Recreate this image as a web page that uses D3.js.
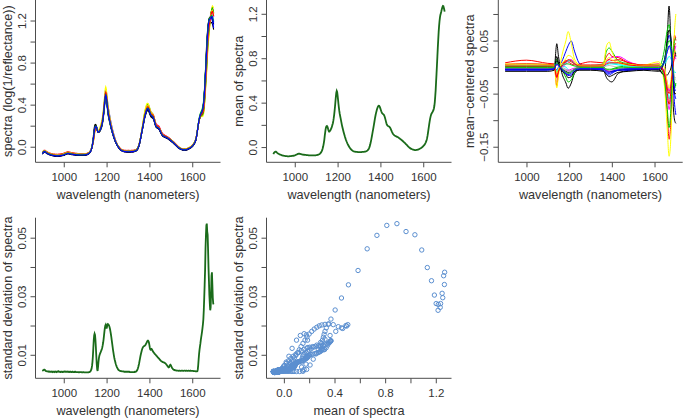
<!DOCTYPE html>
<html><head><meta charset="utf-8">
<script src="https://cdn.jsdelivr.net/npm/d3@7"></script>
<style>
body{margin:0;background:#fff}
svg{display:block}
text{font-family:"Liberation Sans",Arial,Helvetica,sans-serif}
</style>
</head><body>
<svg id="chart" width="685" height="418"></svg>
<script>
// ---------------- DATA ----------------
const wavelengths = d3.range(900, 1701, 2); // 900..1700 nm, 2 nm step

const meanSpectrum = [
-0.063,-0.056,-0.050,-0.046,-0.043,-0.042,-0.042,-0.045,-0.048,-0.052,
-0.055,-0.058,-0.060,-0.062,-0.064,-0.066,-0.068,-0.069,-0.071,-0.072,
-0.074,-0.075,-0.076,-0.077,-0.078,-0.079,-0.080,-0.080,-0.081,-0.081,
-0.082,-0.082,-0.082,-0.083,-0.083,-0.083,-0.083,-0.083,-0.082,-0.082,
-0.082,-0.081,-0.081,-0.080,-0.080,-0.079,-0.078,-0.078,-0.077,-0.076,
-0.075,-0.073,-0.071,-0.069,-0.067,-0.066,-0.064,-0.062,-0.061,-0.060,
-0.060,-0.060,-0.061,-0.062,-0.063,-0.064,-0.065,-0.066,-0.067,-0.068,
-0.068,-0.069,-0.069,-0.070,-0.070,-0.071,-0.071,-0.072,-0.072,-0.073,
-0.073,-0.073,-0.074,-0.074,-0.074,-0.074,-0.075,-0.075,-0.075,-0.075,
-0.075,-0.075,-0.075,-0.075,-0.075,-0.075,-0.075,-0.074,-0.074,-0.074,
-0.073,-0.073,-0.072,-0.071,-0.070,-0.068,-0.067,-0.065,-0.062,-0.059,
-0.055,-0.050,-0.045,-0.037,-0.028,-0.015,0.000,0.018,0.040,0.065,
0.100,0.130,0.160,0.178,0.187,0.190,0.185,0.175,0.160,0.148,
0.140,0.140,0.145,0.150,0.157,0.165,0.175,0.188,0.200,0.215,
0.235,0.260,0.290,0.325,0.365,0.410,0.455,0.490,0.505,0.495,
0.465,0.430,0.390,0.355,0.325,0.300,0.280,0.260,0.240,0.220,
0.200,0.183,0.167,0.151,0.136,0.122,0.108,0.095,0.083,0.071,
0.060,0.050,0.041,0.032,0.024,0.016,0.009,0.003,-0.003,-0.009,
-0.014,-0.019,-0.023,-0.027,-0.030,-0.033,-0.035,-0.037,-0.039,-0.040,
-0.041,-0.042,-0.043,-0.043,-0.044,-0.044,-0.044,-0.045,-0.045,-0.045,
-0.045,-0.045,-0.045,-0.045,-0.045,-0.045,-0.045,-0.044,-0.044,-0.044,
-0.044,-0.043,-0.043,-0.042,-0.041,-0.040,-0.039,-0.037,-0.035,-0.033,
-0.030,-0.026,-0.021,-0.014,-0.005,0.006,0.020,0.036,0.054,0.074,
0.095,0.117,0.139,0.160,0.182,0.205,0.228,0.251,0.273,0.293,
0.310,0.325,0.340,0.352,0.362,0.369,0.372,0.371,0.366,0.357,
0.346,0.334,0.322,0.312,0.305,0.301,0.298,0.295,0.290,0.283,
0.273,0.260,0.245,0.229,0.214,0.203,0.196,0.192,0.189,0.187,
0.185,0.182,0.178,0.172,0.164,0.155,0.146,0.137,0.129,0.122,
0.116,0.111,0.107,0.104,0.102,0.100,0.098,0.096,0.094,0.092,
0.090,0.088,0.086,0.083,0.080,0.077,0.074,0.071,0.068,0.065,
0.062,0.059,0.055,0.052,0.048,0.045,0.041,0.037,0.033,0.029,
0.025,0.021,0.017,0.013,0.009,0.005,0.001,-0.003,-0.006,-0.009,
-0.012,-0.014,-0.016,-0.018,-0.020,-0.022,-0.023,-0.024,-0.025,-0.026,
-0.027,-0.027,-0.027,-0.027,-0.026,-0.026,-0.025,-0.024,-0.023,-0.021,
-0.019,-0.017,-0.015,-0.013,-0.011,-0.009,-0.006,-0.003,0.000,0.004,
0.008,0.012,0.017,0.022,0.028,0.035,0.043,0.053,0.064,0.080,
0.100,0.125,0.152,0.180,0.207,0.232,0.254,0.272,0.287,0.298,
0.305,0.312,0.318,0.325,0.335,0.350,0.372,0.405,0.455,0.510,
0.586,0.658,0.735,0.813,0.893,0.965,1.035,1.089,1.133,1.166,
1.189,1.203,1.218,1.235,1.250,1.262,1.270,1.268,1.255,1.238,
1.220
];

const sdSpectrum = [
0.0045,0.0046,0.0047,0.0048,0.0049,0.0049,0.0048,0.0046,0.0045,0.0044,
0.0044,0.0043,0.0043,0.0043,0.0042,0.0043,0.0043,0.0042,0.0042,0.0042,
0.0042,0.0043,0.0042,0.0042,0.0041,0.0042,0.0042,0.0042,0.0041,0.0042,
0.0042,0.0043,0.0042,0.0041,0.0042,0.0042,0.0043,0.0044,0.0043,0.0042,
0.0042,0.0042,0.0041,0.0041,0.0042,0.0042,0.0042,0.0041,0.0041,0.0042,
0.0042,0.0042,0.0043,0.0043,0.0042,0.0042,0.0042,0.0042,0.0043,0.0042,
0.0042,0.0042,0.0041,0.0041,0.0042,0.0042,0.0042,0.0041,0.0041,0.0041,
0.0042,0.0042,0.0041,0.0041,0.0041,0.0041,0.0042,0.0042,0.0041,0.0041,
0.0041,0.0041,0.0041,0.0041,0.0041,0.0040,0.0040,0.0041,0.0041,0.0041,
0.0041,0.0041,0.0040,0.0040,0.0040,0.0041,0.0041,0.0040,0.0040,0.0040,
0.0040,0.0040,0.0040,0.0040,0.0040,0.0040,0.0040,0.0040,0.0040,0.0041,
0.0041,0.0042,0.0043,0.0045,0.0048,0.0053,0.0062,0.0075,0.0095,0.0122,
0.0150,0.0166,0.0172,0.0168,0.0150,0.0125,0.0095,0.0068,0.0050,0.0045,
0.0058,0.0075,0.0088,0.0096,0.0101,0.0105,0.0108,0.0112,0.0116,0.0120,
0.0126,0.0133,0.0142,0.0153,0.0166,0.0180,0.0192,0.0200,0.0203,0.0198,
0.0190,0.0196,0.0203,0.0205,0.0204,0.0202,0.0199,0.0194,0.0188,0.0180,
0.0171,0.0161,0.0150,0.0139,0.0128,0.0117,0.0107,0.0098,0.0090,0.0083,
0.0077,0.0071,0.0066,0.0062,0.0058,0.0055,0.0052,0.0050,0.0048,0.0047,
0.0046,0.0045,0.0045,0.0044,0.0044,0.0044,0.0043,0.0043,0.0043,0.0043,
0.0043,0.0042,0.0042,0.0042,0.0042,0.0042,0.0042,0.0042,0.0042,0.0042,
0.0042,0.0042,0.0042,0.0042,0.0041,0.0041,0.0041,0.0041,0.0041,0.0041,
0.0041,0.0041,0.0041,0.0041,0.0041,0.0041,0.0042,0.0042,0.0042,0.0043,
0.0044,0.0046,0.0049,0.0053,0.0058,0.0064,0.0071,0.0079,0.0087,0.0095,
0.0102,0.0108,0.0114,0.0119,0.0123,0.0126,0.0128,0.0129,0.0130,0.0131,
0.0132,0.0134,0.0137,0.0140,0.0143,0.0146,0.0148,0.0148,0.0146,0.0141,
0.0133,0.0124,0.0118,0.0117,0.0119,0.0120,0.0118,0.0115,0.0112,0.0110,
0.0108,0.0106,0.0104,0.0102,0.0101,0.0099,0.0097,0.0096,0.0094,0.0092,
0.0091,0.0089,0.0088,0.0086,0.0084,0.0082,0.0081,0.0079,0.0078,0.0077,
0.0076,0.0075,0.0075,0.0074,0.0074,0.0073,0.0072,0.0071,0.0070,0.0068,
0.0066,0.0064,0.0062,0.0060,0.0058,0.0057,0.0058,0.0062,0.0065,0.0066,
0.0064,0.0061,0.0058,0.0055,0.0053,0.0051,0.0050,0.0049,0.0048,0.0048,
0.0047,0.0047,0.0047,0.0046,0.0046,0.0046,0.0046,0.0046,0.0045,0.0045,
0.0046,0.0046,0.0045,0.0045,0.0045,0.0046,0.0046,0.0046,0.0045,0.0045,
0.0045,0.0046,0.0046,0.0046,0.0045,0.0045,0.0046,0.0046,0.0045,0.0045,
0.0045,0.0046,0.0046,0.0045,0.0045,0.0045,0.0046,0.0045,0.0045,0.0045,
0.0045,0.0045,0.0045,0.0044,0.0044,0.0044,0.0044,0.0044,0.0043,0.0043,
0.0043,0.0043,0.0044,0.0050,0.0065,0.0085,0.0103,0.0117,0.0128,0.0138,
0.0150,0.0160,0.0170,0.0180,0.0192,0.0205,0.0222,0.0253,0.0294,0.0339,
0.0388,0.0462,0.0508,0.0542,0.0548,0.0521,0.0510,0.0458,0.0398,0.0353,
0.0304,0.0275,0.0252,0.0262,0.0310,0.0370,0.0382,0.0340,0.0295,0.0275,
0.0272
];

// mean-centered spectra of individual samples, read at these wavelengths
const devWavelengths = [900,1000,1100,1130,1142,1150,1165,1185,1195,1210,1225,1250,1300,1360,1375,1388,1400,1430,1480,1550,1620,1645,1660,1668,1678,1686,1694,1700];
const devSamples = [
[-.004,-.004,-.004,-.002,.044,.020,-.010,-.030,-.040,-.030,-.012,-.004,-.004,-.006,-.020,-.026,-.028,-.012,-.006,-.004,-.006,-.015,.060,.115,.030,-.060,-.100,-.106],
[.008,.013,.007,.006,-.036,-.010,.004,.012,.010,.006,.004,.006,.010,.008,.020,.026,.020,.018,.008,.004,.006,-.020,-.090,-.136,-.090,.010,.060,.050],
[.002,.002,.002,.003,.015,.006,-.004,-.020,-.028,-.024,-.010,.000,.002,.006,.030,.036,.030,.012,.006,.003,.000,.030,.070,.080,.040,-.020,-.040,-.030],
[-.006,-.006,-.006,-.004,-.005,.000,.010,.030,.040,.049,.030,.006,-.002,-.006,-.012,-.015,-.012,-.006,-.006,-.005,-.004,.010,.030,.040,.030,-.020,-.070,-.090],
[.004,.004,.004,.004,.010,.006,.002,.000,-.005,-.008,-.004,.002,.003,.004,.008,.010,.008,.006,.004,.003,.004,-.010,-.040,-.060,-.040,.000,.020,.020],
[-.002,-.002,-.002,-.002,-.012,-.006,.000,.006,.012,.014,.008,.000,-.002,.000,.010,.015,.018,.020,.010,.002,.000,-.015,-.060,-.080,-.050,.000,.030,.040],
[.006,.006,.005,.004,-.039,-.015,.020,.050,.067,.045,.015,.004,.002,.005,.040,.047,.030,.010,.005,.004,.010,-.030,-.120,-.168,-.120,-.010,.070,.100],
[.000,.000,.000,.000,.004,.002,.000,-.004,-.006,-.006,-.004,.000,.000,.000,.002,.003,.002,.000,.000,.000,.000,.010,.030,.035,.030,.010,-.020,-.020],
[-.003,-.003,-.003,-.002,.012,.006,-.002,-.008,-.010,-.008,-.004,-.002,-.002,-.002,-.006,-.008,-.008,-.006,-.004,-.004,-.004,-.015,-.015,-.010,.000,.020,.030,.020],
[.005,.006,.005,.004,-.018,-.008,.004,.010,.012,.010,.006,.004,.004,.004,.012,.014,.012,.014,.008,.004,.004,-.010,-.050,-.070,-.040,.000,.040,.045],
[.001,.001,.001,.001,-.010,-.004,.002,.006,.006,.004,.002,.001,.001,.000,-.004,-.006,-.004,.000,.002,.002,.003,-.020,-.080,-.114,-.070,.010,.050,.055],
[-.005,-.005,-.005,-.004,.006,.003,-.004,-.012,-.016,-.015,-.008,-.004,-.004,-.004,-.010,-.012,-.010,-.006,-.004,-.004,-.003,.012,.045,.060,.040,-.010,-.050,-.060],
[.003,.003,.003,.002,-.008,-.002,.004,.008,.012,.012,.006,.002,.002,.002,.004,.006,.006,.004,.002,.002,.002,.005,.015,.020,.015,.000,-.010,-.010],
[-.001,-.001,-.001,-.001,.005,.002,-.002,-.006,-.006,-.004,-.002,-.001,-.001,-.002,-.006,-.008,-.006,-.003,-.002,-.001,-.001,-.005,-.030,-.045,-.030,.000,.020,.015],
[.004,.004,.004,.003,-.012,-.004,.006,.016,.022,.020,.010,.003,.002,.003,.014,.018,.014,.008,.004,.003,.004,.000,-.030,-.040,-.020,.010,.030,.030],
[-.002,-.002,-.002,-.002,.008,.004,-.002,-.006,-.008,-.008,-.004,-.002,-.002,-.002,-.004,-.006,-.006,-.004,-.002,-.002,-.002,.008,.030,.040,.030,.000,-.020,-.025],
[-.008,-.008,-.008,-.006,.020,.008,-.006,-.014,-.020,-.018,-.008,-.006,-.006,-.008,-.014,-.018,-.016,-.010,-.008,-.006,-.008,.010,.050,.070,.050,-.010,-.050,-.050],
[.002,.002,.002,.002,-.020,-.008,.002,.010,.014,.012,.006,.002,.002,.002,.006,.008,.008,.008,.004,.002,.002,-.010,-.040,-.050,-.030,.000,.020,.025],
[-.001,-.001,-.001,-.001,.008,.004,-.002,-.010,-.012,-.010,-.004,-.001,-.001,-.001,-.004,-.004,-.004,-.002,-.001,-.001,-.001,.010,.040,.050,.040,.000,-.030,-.035],
[-.004,-.004,-.004,-.003,.006,.003,-.004,-.012,-.014,-.012,-.006,-.003,-.003,-.003,-.008,-.010,-.008,-.005,-.003,-.003,-.003,.008,.030,.040,.030,-.010,-.040,-.045]
];

const samplePalette = ["#000000","#FF0000","#00CD00","#0000FF","#00FFFF","#FF00FF","#FFFF00","#BEBEBE"];

const waveTicks = [1000,1200,1400,1600];
const waveTickLabels = ["1000","1200","1400","1600"];
const spectraTicks = [0,0.2,0.4,0.6,0.8,1.0,1.2];
const spectraTickLabels = ["0.0","","0.4","","0.8","","1.2"];
const centeredTicks = [-0.15,-0.10,-0.05,0,0.05,0.10];
const centeredTickLabels = ["\u22120.15","","\u22120.05","","0.05",""];
const sdTicks = [0.01,0.02,0.03,0.04,0.05];
const sdTickLabels = ["0.01","","0.03","","0.05"];

const xTitleWave = "wavelength (nanometers)";
const titles = {
  spectra: "spectra (log(1/reflectance))",
  mean: "mean of spectra",
  centered: "mean\u2212centered spectra",
  sd: "standard deviation of spectra"
};

// ---------------- DRAWING ----------------
const svg = d3.select("#chart");
const axisColor = "#4d4d4d";
const textColor = "#333333";
const lineGreen = "#1a6b1a";
const pointBlue = "#5b8fd0";

function pad(ext){ const r = ext[1]-ext[0]; return [ext[0]-0.04*r, ext[1]+0.04*r]; }

function makePanel(box, xExt, yExt, xT, xL, yT, yL, xTitle, yTitle){
  const x = d3.scaleLinear().domain(pad(xExt)).range([box.x0, box.x1]);
  const y = d3.scaleLinear().domain(pad(yExt)).range([box.y1, box.y0]);
  const g = svg.append("g");
  const gx = g.append("g").attr("transform", `translate(0,${box.y1})`)
    .call(d3.axisBottom(x).tickValues(xT).tickFormat((d,i)=>xL[i]).tickSize(5).tickSizeOuter(0));
  gx.select(".domain").remove();
  gx.attr("font-size", null).attr("font-family", null);
  gx.selectAll(".tick line").attr("stroke", axisColor);
  gx.selectAll(".tick text").attr("y", 19).attr("dy", null)
    .attr("fill", textColor).style("font-size", "11.5px");
  const gy = g.append("g").attr("transform", `translate(${box.x0},0)`)
    .call(d3.axisLeft(y).tickValues(yT).tickFormat((d,i)=>yL[i]).tickSize(5).tickSizeOuter(0));
  gy.select(".domain").remove();
  gy.attr("font-size", null).attr("font-family", null);
  gy.selectAll(".tick line").attr("stroke", axisColor);
  gy.selectAll(".tick text").attr("x", 0).attr("y", -10).attr("dy", null)
    .attr("transform", "rotate(-90)").attr("text-anchor", "middle")
    .attr("fill", textColor).style("font-size", "11.5px");
  // L-shaped box
  g.append("path").attr("d", `M${box.x0},${box.y0}V${box.y1}H${box.x1}`)
    .attr("fill", "none").attr("stroke", axisColor).attr("stroke-width", 1);
  // titles
  g.append("text").attr("x", (box.x0+box.x1)/2).attr("y", box.y1+37)
    .attr("text-anchor", "middle").attr("fill", textColor).style("font-size", "12.7px").text(xTitle);
  g.append("text").attr("transform", `translate(${box.x0-24},${(box.y0+box.y1)/2}) rotate(-90)`)
    .attr("text-anchor", "middle").attr("fill", textColor).style("font-size", "12.7px").text(yTitle);
  const plot = g.append("g");
  return {x, y, plot};
}

const boxes = [
  {x0:35.5, x1:220.5, y0:0, y1:162.3},
  {x0:266.5, x1:451.5, y0:0, y1:162.3},
  {x0:498.3, x1:682.7, y0:0, y1:162.3},
  {x0:35.5, x1:220.5, y0:217.7, y1:378.3},
  {x0:266.5, x1:451.5, y0:217.7, y1:378.3}
];

const waveExt = d3.extent(wavelengths);

// Panel 1: individual spectra = mean + sample deviation
const devScales = devSamples.map(s => d3.scaleLinear().domain(devWavelengths).range(s));
const spectra = devScales.map(sc => wavelengths.map((w,j) => meanSpectrum[j] + sc(w)));
const spectraExt = [d3.min(spectra, s => d3.min(s)), d3.max(spectra, s => d3.max(s))];
const p1 = makePanel(boxes[0], waveExt, spectraExt, waveTicks, waveTickLabels, spectraTicks, spectraTickLabels, xTitleWave, titles.spectra);
const line1 = d3.line().x((d,j)=>p1.x(wavelengths[j])).y(d=>p1.y(d));
p1.plot.selectAll("path.s").data(spectra).join("path")
  .attr("d", line1).attr("fill","none")
  .attr("stroke", (d,i)=>samplePalette[i % samplePalette.length]).attr("stroke-width", 1.1);

// Panel 2: mean spectrum
const p2 = makePanel(boxes[1], waveExt, d3.extent(meanSpectrum), waveTicks, waveTickLabels, spectraTicks, spectraTickLabels, xTitleWave, titles.mean);
p2.plot.append("path").datum(meanSpectrum)
  .attr("d", d3.line().x((d,j)=>p2.x(wavelengths[j])).y(d=>p2.y(d)))
  .attr("fill","none").attr("stroke", lineGreen).attr("stroke-width", 1.8);

// Panel 3: mean-centered spectra
const devExt = [d3.min(devSamples, s=>d3.min(s)), d3.max(devSamples, s=>d3.max(s))];
const p3 = makePanel(boxes[2], waveExt, devExt, waveTicks, waveTickLabels, centeredTicks, centeredTickLabels, xTitleWave, titles.centered);
const line3 = d3.line().curve(d3.curveMonotoneX).x((d,j)=>p3.x(devWavelengths[j])).y(d=>p3.y(d));
p3.plot.selectAll("path.d").data(devSamples).join("path")
  .attr("d", line3).attr("fill","none")
  .attr("stroke", (d,i)=>samplePalette[i % samplePalette.length]).attr("stroke-width", 1);

// Panel 4: standard deviation
const p4 = makePanel(boxes[3], waveExt, d3.extent(sdSpectrum), waveTicks, waveTickLabels, sdTicks, sdTickLabels, xTitleWave, titles.sd);
p4.plot.append("path").datum(sdSpectrum)
  .attr("d", d3.line().x((d,j)=>p4.x(wavelengths[j])).y(d=>p4.y(d)))
  .attr("fill","none").attr("stroke", lineGreen).attr("stroke-width", 1.8);

// Panel 5: sd vs mean
const p5 = makePanel(boxes[4], d3.extent(meanSpectrum), d3.extent(sdSpectrum), spectraTicks, spectraTickLabels, sdTicks, sdTickLabels, titles.mean, titles.sd);
p5.plot.selectAll("circle").data(meanSpectrum).join("circle")
  .attr("cx", d=>p5.x(d)).attr("cy", (d,j)=>p5.y(sdSpectrum[j])).attr("r", 2.2)
  .attr("fill","none").attr("stroke", pointBlue).attr("stroke-width", 1);
</script>
</body></html>
